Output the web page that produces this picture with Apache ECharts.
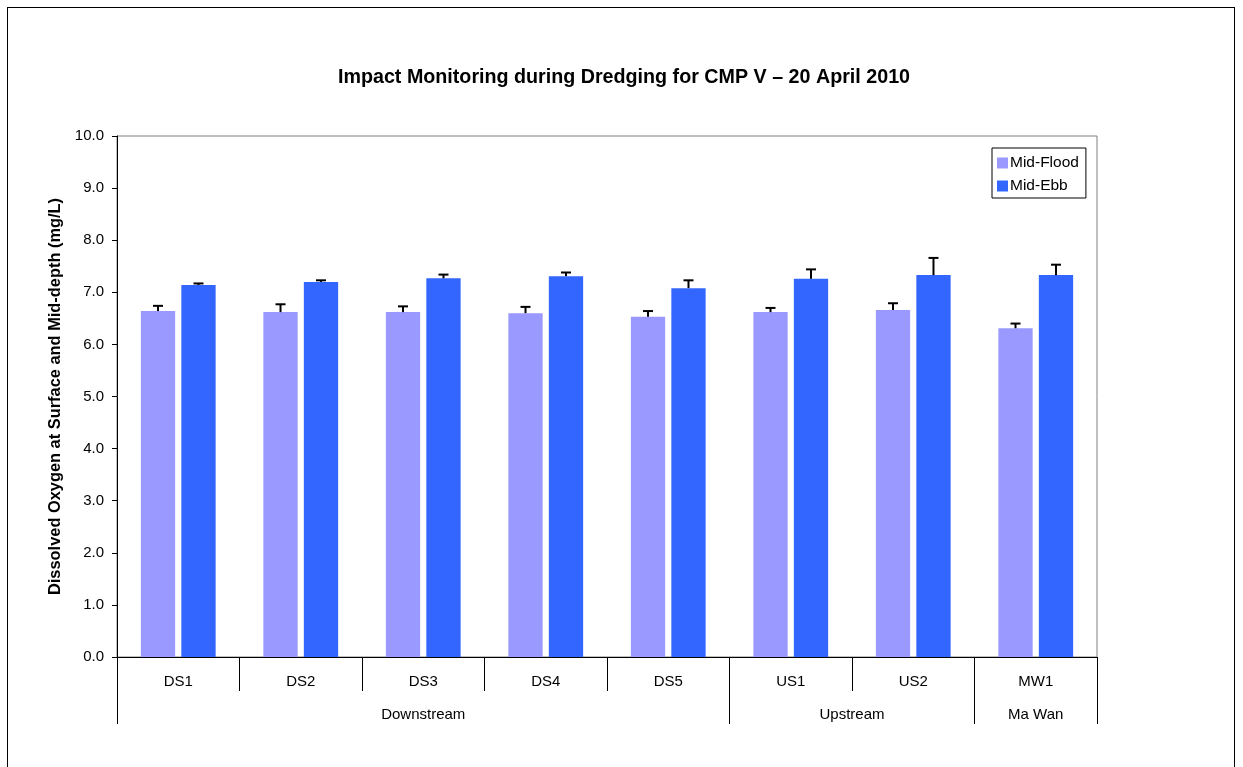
<!DOCTYPE html>
<html>
<head>
<meta charset="utf-8">
<script src="https://cdn.jsdelivr.net/npm/echarts@6/dist/echarts.min.js"></script>
<style>
html,body{margin:0;padding:0;background:#fff;overflow:hidden;}
#frame{position:absolute;left:7px;top:7px;width:1228px;height:800px;border:1px solid #000;box-sizing:border-box;}
#chart{position:absolute;left:0;top:0;width:1243px;height:767px;}
</style>
</head>
<body>
<div id="frame"></div>
<div id="chart"></div>
<script>
const categories = ['DS1','DS2','DS3','DS4','DS5','US1','US2','MW1'];
const groups = ['Downstream','Upstream','Ma Wan'];
const groupBounds = [0,5,7,8];
const groupCenters = [2.5,6,7.5];
const floodValues = [6.64,6.62,6.62,6.60,6.53,6.62,6.66,6.31];
const floodErrors = [0.10,0.15,0.11,0.12,0.11,0.08,0.13,0.09];
const ebbValues = [7.14,7.20,7.27,7.31,7.08,7.26,7.33,7.33];
const ebbErrors = [0.03,0.03,0.07,0.07,0.15,0.18,0.33,0.20];
const yTicks = [0,1,2,3,4,5,6,7,8,9,10];

const FONT = 'Liberation Sans, Arial, Helvetica, sans-serif';
const BAR_W = 0.28, BAR_GAP = 0.18;
function errSeries(values, errors, side) {
  return {
    type: 'custom',
    xAxisIndex: 0,
    z: 10,
    silent: true,
    data: values.map((v,i)=>[i, v, errors[i]]),
    renderItem: function(params, api) {
      const i = api.value(0), v = api.value(1), e = api.value(2);
      const band = api.size([1,0])[0];
      const off = side * band * BAR_W * (1 + BAR_GAP) / 2;
      const p0 = api.coord([i, v]);
      const p1 = api.coord([i, v + e]);
      const x = p0[0] + off;
      const cap = 5;
      return {
        type: 'group',
        children: [
          {type:'line', shape:{x1:x,y1:p0[1],x2:x,y2:p1[1]}, style:{stroke:'#000',lineWidth:2}},
          {type:'line', shape:{x1:x-cap,y1:p1[1],x2:x+cap,y2:p1[1]}, style:{stroke:'#000',lineWidth:2}}
        ]
      };
    }
  };
}

const chart = echarts.init(document.getElementById('chart'), null, {renderer:'canvas'});
chart.setOption({
  animation: false,
  backgroundColor: 'transparent',
  title: {
    text: 'Impact Monitoring during Dredging for CMP V \u2013 20 April 2010',
    left: 619, top: 63, textAlign: 'center',
    textStyle: {fontFamily: FONT, fontSize:19.7, fontWeight:'bold', color:'#000'}
  },
  legend: {
    orient: 'vertical',
    left: 992, top: 148,
    padding: [7,7,4,5],
    itemGap: 7,
    itemWidth: 11, itemHeight: 11,
    icon: 'rect',
    borderColor: '#000', borderWidth: 1,
    backgroundColor: '#fff',
    textStyle: {fontFamily: FONT, fontSize:15.5, color:'#000', padding:[0,0,0,-3]},
    data: ['Mid-Flood','Mid-Ebb']
  },
  grid: {
    left: 117, right: 146, top: 136, bottom: 110,
    show: true, borderColor: '#808080', borderWidth: 1, backgroundColor: '#fff'
  },
  xAxis: [
    {
      type: 'category',
      data: categories,
      position: 'bottom',
      axisLine: {show:true, lineStyle:{color:'#000', width:1}},
      axisTick: {show:true, length:34, interval:0, lineStyle:{color:'#000'}},
      axisLabel: {margin:17, fontFamily: FONT, fontSize:15, color:'#000', interval:0}
    },
    {
      type: 'value',
      min: 0, max: 8,
      position: 'bottom',
      offset: 33,
      axisLine: {show:false},
      splitLine: {show:false},
      axisTick: {show:true, length:34, customValues: groupBounds, lineStyle:{color:'#000'}},
      axisLabel: {
        show: true, margin: 17,
        customValues: groupCenters,
        fontFamily: FONT, fontSize:15, color:'#000',
        formatter: function(v){ const k = groupCenters.indexOf(v); return k >= 0 ? groups[k] : ''; }
      }
    }
  ],
  yAxis: {
    type: 'value',
    min: yTicks[0], max: yTicks[yTicks.length-1], interval: 1,
    name: 'Dissolved Oxygen at Surface and Mid-depth (mg/L)',
    nameLocation: 'middle',
    nameGap: 53,
    nameTextStyle: {fontFamily: FONT, fontSize:16.4, fontWeight:'bold', color:'#000'},
    axisLine: {show:true, lineStyle:{color:'#000', width:1}},
    axisTick: {show:true, length:5, lineStyle:{color:'#000'}},
    splitLine: {show:false},
    axisLabel: {margin:13, fontFamily: FONT, fontSize:15, color:'#000', formatter: v => v.toFixed(1)}
  },
  series: [
    {name:'Mid-Flood', type:'bar', data: floodValues, barWidth: (BAR_W*100)+'%', barGap: (BAR_GAP*100)+'%', itemStyle:{color:'#9999FF'}},
    {name:'Mid-Ebb', type:'bar', data: ebbValues, barWidth: (BAR_W*100)+'%', barGap: (BAR_GAP*100)+'%', itemStyle:{color:'#3366FF'}},
    errSeries(floodValues, floodErrors, -1),
    errSeries(ebbValues, ebbErrors, 1)
  ]
});
</script>
</body>
</html>
